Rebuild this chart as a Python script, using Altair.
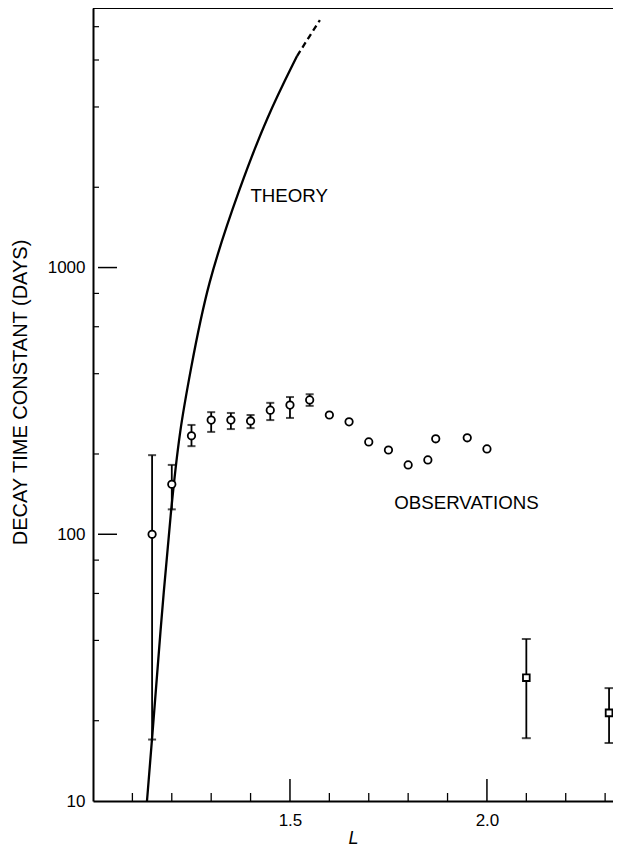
import altair as alt
import pandas as pd

# ---- data ----
theory_L = [1.137, 1.150, 1.170, 1.198, 1.221, 1.246, 1.289, 1.373, 1.442, 1.518]
theory_v = [10, 17, 41.8, 126, 251, 398, 867, 2010, 3690, 6210]
theory_dash_L = [1.518, 1.548, 1.576]
theory_dash_v = [6210, 7300, 8470]

obs_L = [1.15, 1.2, 1.25, 1.3, 1.35, 1.4, 1.45, 1.5, 1.55]
obs_v = [100, 154, 234, 268, 268, 266, 292, 305, 319]
obs_lo = [17, 124, 214, 242, 248, 250, 268, 273, 303]
obs_hi = [198, 182, 257, 287, 285, 280, 311, 327, 335]

obs2_L = [1.6, 1.65, 1.7, 1.75, 1.8, 1.85, 1.87, 1.95, 2.0]
obs2_v = [280, 264, 222, 207, 182, 190, 228, 230, 209]

sq_L = [2.1, 2.31]
sq_v = [29, 21.4]
sq_lo = [17.2, 16.5]
sq_hi = [40.5, 26.5]

x_major = [1.5, 2.0]
x_minor = [1.1, 1.2, 1.3, 1.4, 1.6, 1.7, 1.8, 1.9, 2.1, 2.2, 2.3]
y_major = [100, 1000]
y_minor = [20, 40, 60, 80, 200, 400, 600, 800, 2000, 4000, 6000, 8000]
y_labels = [10, 100, 1000]

labels_text = ["THEORY", "OBSERVATIONS"]
labels_L = [1.498, 1.948]
labels_v = [1850, 131]

X_DOMAIN = [1.0, 2.32]
Y_DOMAIN = [10, 9400]

W, H = 520, 793
FONT = "Liberation Sans"

xs = alt.Scale(domain=X_DOMAIN, nice=False, zero=False)
ys = alt.Scale(type="log", domain=Y_DOMAIN, nice=False)

x_axis = alt.Axis(
    values=x_major, format=".1f", tickSize=0, labelPadding=11,
    labelFontSize=17, labelFont=FONT, labelColor="black", labelFlush=False,
    domainColor="black", domainWidth=2, grid=False, orient="bottom",
    title="L", titleFont=FONT, titleFontStyle="italic", titleFontSize=18,
    titleFontWeight="normal", titleColor="black", titleY=37, titleBaseline="middle",
)
y_axis = alt.Axis(
    values=y_labels, format="d", tickSize=0, labelPadding=8,
    labelFontSize=17, labelFont=FONT, labelColor="black", labelBaseline="middle",
    labelFlush=False, domainColor="black", domainWidth=2, grid=False, orient="left",
    title="DECAY TIME CONSTANT (DAYS)", titleFont=FONT, titleFontSize=20,
    titleFontWeight="normal", titleColor="black", titleX=-73, titleY=384,
    titleAngle=270, titleAlign="center", titleBaseline="middle",
)


def X(field="L"):
    return alt.X(f"{field}:Q", scale=xs, axis=x_axis)


def Y(field="v"):
    return alt.Y(f"{field}:Q", scale=ys, axis=y_axis)


theory_df = pd.DataFrame({"L": theory_L, "v": theory_v})
theory_dash_df = pd.DataFrame({"L": theory_dash_L, "v": theory_dash_v})
obs_df = pd.DataFrame({"L": obs_L, "v": obs_v, "lo": obs_lo, "hi": obs_hi})
obs2_df = pd.DataFrame({"L": obs2_L, "v": obs2_v})
sq_df = pd.DataFrame({"L": sq_L, "v": sq_v, "lo": sq_lo, "hi": sq_hi})
lab_df = pd.DataFrame({"t": labels_text, "L": labels_L, "v": labels_v})

theory = alt.Chart(theory_df).mark_line(
    color="black", strokeWidth=2.3, interpolate="basis"
).encode(x=X(), y=Y())
theory_dash = alt.Chart(theory_dash_df).mark_line(
    color="black", strokeWidth=2.3, strokeDash=[6, 4], interpolate="monotone"
).encode(x=X(), y=Y())

top_frame = alt.Chart(pd.DataFrame({"v": [Y_DOMAIN[1]]})).mark_rule(
    color="black", strokeWidth=2
).encode(y=Y(), x=alt.value(0), x2=alt.value(W))

ymaj = alt.Chart(pd.DataFrame({"v": y_major})).mark_rule(color="black", strokeWidth=1.5).encode(
    y=Y(), x=alt.value(5), x2=alt.value(24))
ymin = alt.Chart(pd.DataFrame({"v": y_minor})).mark_rule(color="black", strokeWidth=1.2).encode(
    y=Y(), x=alt.value(0), x2=alt.value(6))
xmaj = alt.Chart(pd.DataFrame({"L": x_major})).mark_rule(color="black", strokeWidth=1.5).encode(
    x=X(), y=alt.value(H), y2=alt.value(H - 22))
xmin = alt.Chart(pd.DataFrame({"L": x_minor})).mark_rule(color="black", strokeWidth=1.3).encode(
    x=X(), y=alt.value(H), y2=alt.value(H - 8))


def errbars(df, cap):
    bar = alt.Chart(df).mark_rule(color="black", strokeWidth=1.8).encode(
        x=X(), y=Y("lo"), y2="hi:Q")
    lo = alt.Chart(df).mark_tick(color="black", orient="horizontal", size=cap, thickness=2).encode(
        x=X(), y=Y("lo"))
    hi = alt.Chart(df).mark_tick(color="black", orient="horizontal", size=cap, thickness=2).encode(
        x=X(), y=Y("hi"))
    return bar + lo + hi


circ_style = dict(filled=True, color="white", stroke="black", strokeWidth=1.8, opacity=1)
circles1 = alt.Chart(obs_df).mark_point(shape="circle", size=55, **circ_style).encode(x=X(), y=Y())
circles2 = alt.Chart(obs2_df).mark_point(shape="circle", size=55, **circ_style).encode(x=X(), y=Y())
squares = alt.Chart(sq_df).mark_point(shape="square", size=45, **circ_style).encode(x=X(), y=Y())

labels = alt.Chart(lab_df).mark_text(
    font=FONT, fontSize=18.7, color="black", align="center", baseline="middle"
).encode(x=X(), y=Y(), text="t:N")

chart = alt.layer(
    theory, theory_dash, top_frame, ymaj, ymin, xmaj, xmin,
    errbars(obs_df, 8), errbars(sq_df, 9),
    circles1, circles2, squares, labels,
).properties(
    width=W, height=H,
    background="white",
    autosize=alt.AutoSizeParams(type="none"),
    padding={"left": 85, "top": 0, "right": 0, "bottom": 49},
).configure_view(stroke="transparent", strokeWidth=0)

chart.save("out.html", embed_options={"renderer": "svg", "actions": False})
